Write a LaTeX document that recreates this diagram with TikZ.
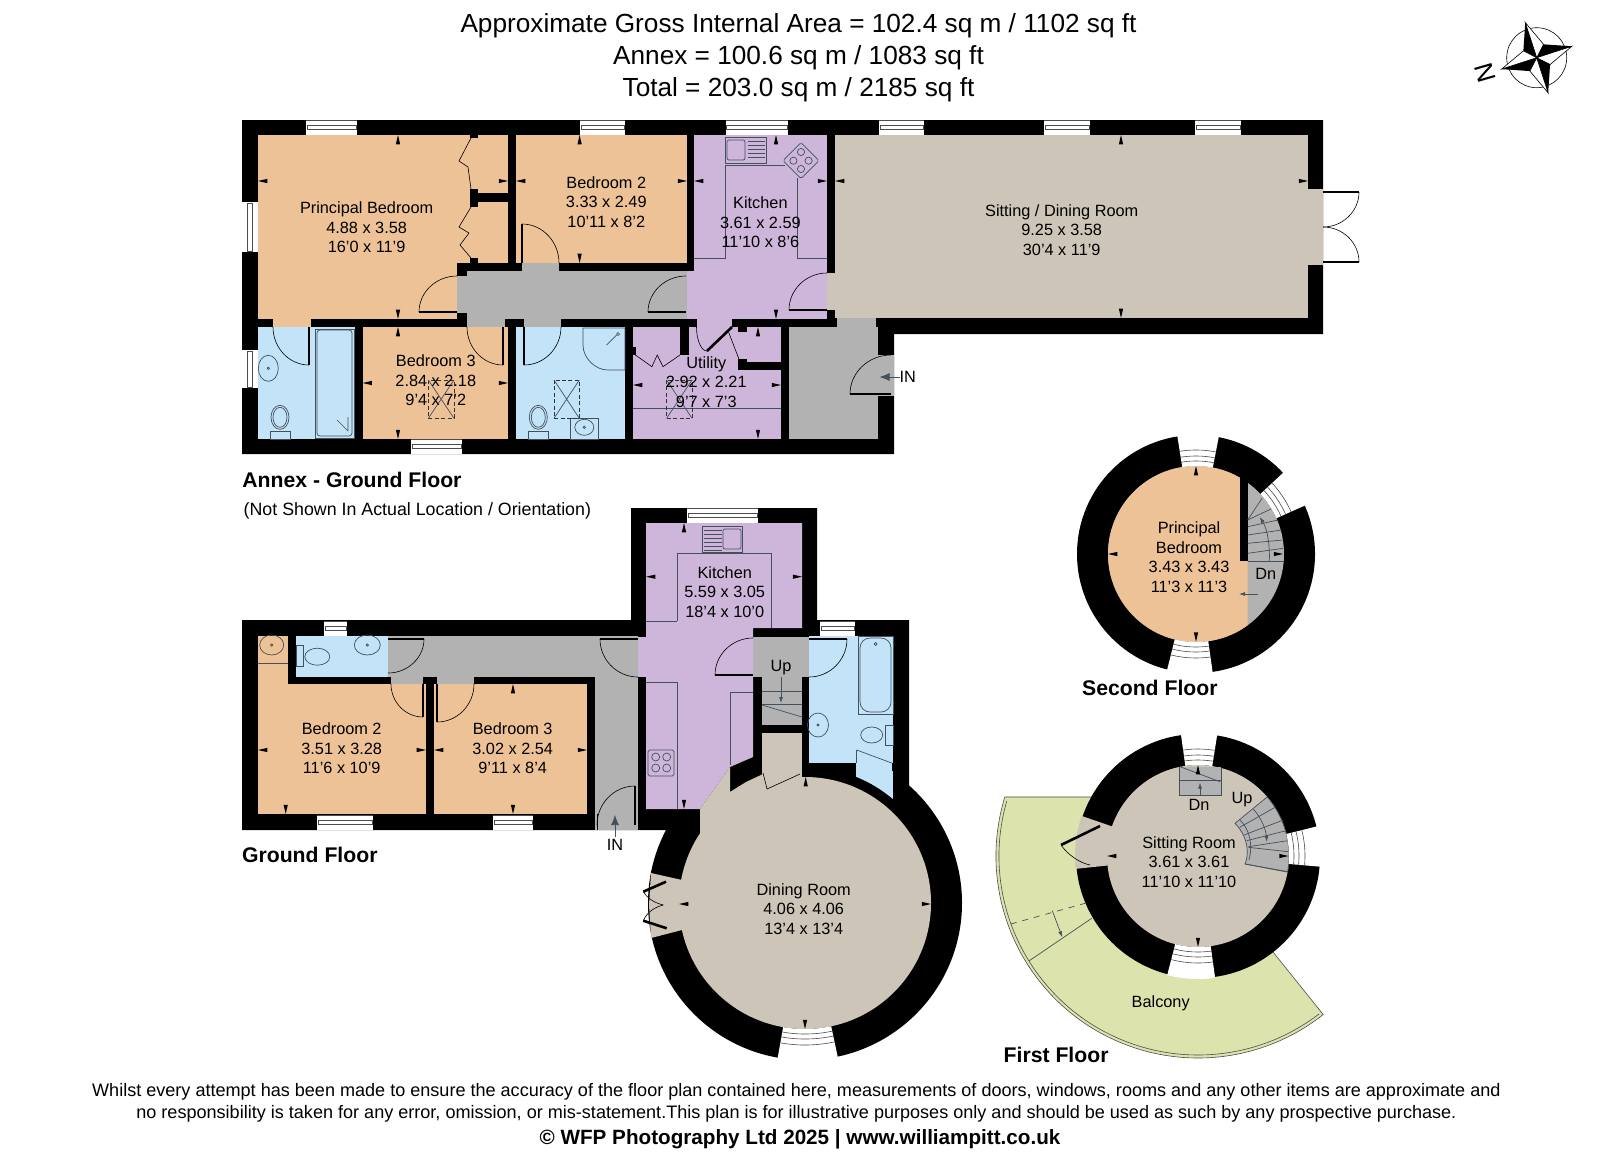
\documentclass[tikz,border=0pt]{standalone}
\usepackage{fontspec}
\setmainfont{Liberation Sans}
\usetikzlibrary{calc, positioning, arrows.meta}
\definecolor{bedroomorange}{HTML}{EEC297}
\definecolor{bathblue}{HTML}{C2E3F8}
\definecolor{kitchenpurple}{HTML}{CEB6DA}
\definecolor{hallgrey}{HTML}{B2B2B2}
\definecolor{livingstone}{HTML}{CDC5B8}
\definecolor{balconygreen}{HTML}{DDE3AC}
\definecolor{fixtureline}{HTML}{44505C}

\begin{document}
\begin{tikzpicture}[x=0.5pt, y=-0.5pt]%{{{
        \useasboundingbox (0, 0) rectangle (1600, 1157);
        \fill [white] (0, 0) rectangle (1600, 1157);

        \tikzstyle{wall} = [fill=black];
        \tikzstyle{fixture} = [draw=fixtureline, line width=0.35pt];
        \tikzstyle{swing} = [draw=black, line width=0.3pt];
        \tikzstyle{leaf} = [draw=black, line width=1.3pt];
        \tikzstyle{hatch} = [draw=black!80, line width=0.35pt, dash pattern=on 2pt off 1.2pt];
        \tikzstyle{windowline} = [draw=black!70, line width=0.3pt];
        \tikzstyle{roomtext} = [font=\fontsize{8.15}{9.75}\selectfont, align=center, inner sep=0pt];
        \tikzstyle{floortext} = [font=\fontsize{10.6}{12}\selectfont\bfseries, anchor=west, inner sep=0pt];

        \coordinate (DC) at (805, 903);
        \coordinate (SC) at (1196, 554);
        \coordinate (FC) at (1198, 856);

        % annex
        \fill [wall] (242, 120) -- (1323, 120) -- (1323, 334) -- (894, 334) -- (894, 454) -- (242, 454) -- cycle;
        \foreach \xa/\ya/\xb/\yb in {258/135/457/319, 457/135/508/263, 273/319/311/327, 516/135/687/263, 362.6/327/508/439}{
            \fill [bedroomorange] (\xa, \ya) rectangle (\xb, \yb);
        }
        \foreach \xa/\ya/\xb/\yb in {258/327/355/439, 516/327/625/439}{
            \fill [bathblue] (\xa, \ya) rectangle (\xb, \yb);
        }
        \foreach \xa/\ya/\xb/\yb in {694/135/827/319, 687/271/694/319, 696.5/319/732/327, 633/327/781/439}{
            \fill [kitchenpurple] (\xa, \ya) rectangle (\xb, \yb);
        }
        \foreach \xa/\ya/\xb/\yb in {467/271/687/319, 457/276/467/313, 467/319/505/327, 524/319/561/327, 522/263/559/271, 789/327/878/439, 837/318/876/327, 878/355/894/396}{
            \fill [hallgrey] (\xa, \ya) rectangle (\xb, \yb);
        }
        \foreach \xa/\ya/\xb/\yb in {835/135/1308/318, 827/273/835/310, 1308/189/1323/265}{
            \fill [livingstone] (\xa, \ya) rectangle (\xb, \yb);
        }
        \foreach \xa/\ya/\xb/\yb in {470/135/478/138, 470/189/478/207, 470/258/478/263, 478/193/508/202, 680/327/689/355, 633/347/636/355, 738/359/747/370, 747/362/781/370, 738/327/747/332}{
            \fill [wall] (\xa, \ya) rectangle (\xb, \yb);
        }

        % ground floor
        \fill [wall] (242, 620) -- (631, 620) -- (631, 508) -- (817, 508) -- (817, 620) -- (909, 620) -- (909, 790) -- (700, 790) -- (700, 830) -- (242, 830) -- cycle;
        \fill [wall] (DC) circle [radius=157];
        \foreach \xa/\ya/\xb/\yb in {258/684/426/814, 258/636/288/684, 434/684/587/814}{
            \fill [bedroomorange] (\xa, \ya) rectangle (\xb, \yb);
        }
        \foreach \xa/\ya/\xb/\yb in {296/636/388/677, 809/636/893/763, 856/750/893/810}{
            \fill [bathblue] (\xa, \ya) rectangle (\xb, \yb);
        }
        \foreach \xa/\ya/\xb/\yb in {388/636/638/677, 595/677/638/830, 391/677/423/684, 437/677/474/684, 753/637/809/677, 762/677/802/725}{
            \fill [hallgrey] (\xa, \ya) rectangle (\xb, \yb);
        }
        \fill [kitchenpurple] (646, 523) -- (802, 523) -- (802, 628) -- (753, 628) -- (753, 757) -- (730, 767) -- (700, 809) -- (646, 809) -- cycle;
        \fill [kitchenpurple] (638, 637) rectangle (646, 677);
        \begin{scope}
            \clip (800, 700) rectangle (960, 1000);
            \fill [wall] (DC) circle [radius=136];
        \end{scope}
        \fill [livingstone] (762, 733) rectangle (802, 790);
        \fill [livingstone] (700, 809) -- (730, 767) -- (730, 792) -- (746, 782) -- (763, 774) -- (763, 800) -- (720, 830) -- (700, 840) -- cycle;
        \fill [livingstone] (DC) circle [radius=126];
        \fill [livingstone] (651, 873) -- (682, 880) -- (682, 930) -- (651, 938) -- (649, 905) -- cycle;
        \fill [wall] (891.7, 763) rectangle (893, 771);

        % second floor
        \fill [wall] (SC) circle [radius=119];
        \fill [hallgrey] (SC) circle [radius=88];
        \begin{scope}
            \clip (1100, 460) rectangle (1247.7, 650);
            \fill [bedroomorange] (SC) circle [radius=88];
        \end{scope}
        \fill [wall] (1240, 477) rectangle (1247.7, 561);

        % first floor
        \fill [balconygreen] ($(FC) + (197:202)$) arc [start angle=197, end angle=51.7, radius=202] -- ($(FC) + (52:120)$) -- (1106, 797) -- cycle;
        \draw [windowline] (1106, 797) -- ($(FC) + (197:202)$) arc [start angle=197, end angle=51.7, radius=202] -- ($(FC) + (52:120)$);
        \draw [windowline] ($(FC) + (196:199)$) arc [start angle=196, end angle=52.5, radius=199];
        \draw [fixture, dashed] (1010.7, 924) -- (1085, 903.3);
        \draw [fixture] (1029.3, 960.7) -- (1091.7, 918.3);
        \draw [fixture, -{Latex[length=3pt, width=2pt]}] (1052.3, 910.7) -- (1062.3, 937.3);
        \fill [wall] (FC) circle [radius=122];
        \fill [livingstone] (FC) circle [radius=91];
        \fill [livingstone] ($(FC) + (199:91)$) -- ($(FC) + (199:123)$) arc [start angle=199, end angle=174, radius=123] -- ($(FC) + (174:91)$) -- cycle;
        \fill [hallgrey] (1179, 767) rectangle (1221, 795);
        \fill [hallgrey] ($(FC) + (-40.5:91)$) arc [start angle=-40.5, end angle=9.9, radius=91] -- (1245, 864) .. controls (1249, 855) and (1249, 838) .. (1235, 823.3) -- cycle;
        \draw [fixture] ($(FC) + (-40.5:91)$) arc [start angle=-40.5, end angle=9.9, radius=91] -- (1245, 864) .. controls (1249, 855) and (1249, 838) .. (1235, 823.3) -- cycle;
        \draw [fixture] (1179, 767) -- (1179, 795) -- (1221, 795) -- (1221, 768);
        \draw [fixture] (1179, 780) -- (1221, 780);
        \draw [fixture] (1180, 766.7) -- (1220, 781.7);
        \draw [fixture, -{Latex[length=3pt, width=2pt]}] (1200, 795) -- (1200, 782.7);
        \foreach \xa/\ya/\xb/\yb in {1239.7/827.3/1275/807.3, 1244/835/1283.3/820, 1246.7/840.7/1286/830.7, 1248.3/846.7/1287.7/840.7, 1248.3/847.3/1288.3/851.7, 1245/864/1287/872}{
            \draw [fixture] (\xa, \ya) -- (\xb, \yb);
        }
        \draw [fixture] (1240, 820) .. controls (1250, 830) and (1253, 845) .. (1249, 860);
        \draw [fixture, -{Latex[length=3pt, width=2pt]}] (1253.3, 809.3) .. controls (1261, 817) and (1266, 830) .. (1266.7, 841.7);

        % second floor stairs
        \foreach \xa/\ya/\xb/\yb in {1247.7/561/1284/561, 1247.7/520/1262/498.3, 1247.7/520/1273/508, 1247.7/526.7/1278/520, 1247.7/535/1281.7/530, 1247.7/543.3/1282.7/540, 1247.7/553.3/1283.3/548.3}{
            \draw [fixture] (\xa, \ya) -- (\xb, \yb);
        }
        \draw [fixture, {Latex[length=3pt, width=2pt]}-] (1259.7, 517) .. controls (1268, 530) and (1270, 548) .. (1269.3, 561);
        \draw [fixture, -{Latex[length=3pt, width=2pt]}] (1258, 594) -- (1239, 594);

        % windows in the round walls
        \foreach \cc/\ri/\aa/\ab in {DC/126/78/100, SC/88/-99/-79, SC/88/82/104, SC/88/-43/-24, FC/91/-98/-81, FC/91/82/104.5, FC/91/-14/5}{
            \fill [white] ($(\cc) + (\aa:\ri)$) arc [start angle=\aa, end angle=\ab, radius=\ri] -- ($(\cc) + (\ab:\ri+32)$) arc [start angle=\ab, end angle=\aa, radius=\ri+32] -- cycle;
            \foreach \dr in {5, 10, 16}{
                \draw [windowline] ($(\cc) + (\aa:\ri+\dr)$) arc [start angle=\aa, end angle=\ab, radius=\ri+\dr];
            }
        }

        % straight windows
        \foreach \xa/\xb/\ya in {306/357/120, 580/625/120, 725.5/788/120, 879/924/120, 1044/1090/120, 1195/1241/120, 411/462/439, 324/347/621, 317/373/815, 493/533/815, 687/758/508, 820/855/621}{
            \fill [white] (\xa, \ya) rectangle (\xb, \ya + 15);
            \draw [windowline] (\xa, \ya) -- (\xb, \ya);
            \draw [windowline] (\xa + 1, \ya + 5) rectangle (\xb - 1, \ya + 9.5);
        }
        \foreach \ya/\yb in {202/252, 350/388}{
            \fill [white] (242, \ya) rectangle (258, \yb);
            \draw [windowline] (247, \ya + 1) rectangle (252, \yb - 1);
        }

        % doors
        \foreach \xa/\ya/\xb/\yb in {419/312/457/312, 522/224/522/263, 648/312/686/312, 789/310/827/310, 309/327/309/365, 503/327/503/365, 524/327/524/365, 850/394/891/394, 732/327/707/351, 1323/192/1359/192, 1323/262/1359/262, 388/639/424/639, 423/684/423/717, 437/684/437/722, 600/639/638/639, 635/786/635/825, 715/675/753/675, 809/639/847/639, 666/881.7/643.3/891.7, 666.7/928.3/643.3/920.7, 1100/826/1061/845}{
            \draw [leaf] (\xa, \ya) -- (\xb, \yb);
        }
        \foreach \xa/\ya/\xb/\yb in {419/312/457/276, 559/263/522/224, 648/312/686/276, 789/310/827/273, 273/327/309/365, 467/327/503/365, 561/327/524/365, 850/394/891/355, 696.5/327/707/351, 424/639/388/673, 391/684/423/717, 474/684/437/722, 600/639/638/677, 597/825/635/786, 715/675/753/638, 847/639/809/677, 1359/192/1323/227, 1359/262/1323/227}{
            \draw [swing] (\xa, \ya) .. controls ($(\xa, \ya)!0.55!(\xa, \yb)$) and ($(\xb, \yb)!0.55!(\xa, \yb)$) .. (\xb, \yb);
        }
        \draw [swing] (643.3, 891.7) .. controls (648, 899) and (655, 903) .. (663.3, 905);
        \draw [swing] (643.3, 920.7) .. controls (647, 912) and (655, 907) .. (663.3, 905);
        \draw [swing] (1061, 845) .. controls (1068, 855) and (1080, 863) .. (1090, 865);
        \draw [swing] (763, 773) -- (767, 789) -- (800, 774);
        \draw [swing] (597, 814) -- (597, 830);
        \draw [swing] (727.8, 330) -- (738.9, 359);

        % fixtures
        \foreach \xa/\ya/\xb/\yb in {725.5/165/766/165, 766/165/785/165, 725.5/165/725.5/258, 694/258/725.5/258, 797/178/797/258, 797/258/827/258, 633/408/781/408, 677/553/771/553, 677/553/677/621, 646/621/677/621, 771/553/771/628, 646/682/677/682, 677/682/677/809, 730/692/753/692, 730/692/730/765, 258/663/288/663, 856.7/750/856.7/763}{
            \draw [fixture] (\xa, \ya) -- (\xb, \yb);
        }
        \draw [fixture] (856.7, 750) -- (891.7, 763);
        % sinks and hobs
        \draw [fixture] (725.5, 137) rectangle (766.6, 163);
        \draw [fixture, rounded corners=1pt] (727, 140) rectangle (745, 160);
        \foreach \ya in {141, 145, ..., 159}{
            \draw [fixture] (748, \ya) -- (765, \ya);
        }
        \draw [fixture] (702, 526) rectangle (742, 552);
        \draw [fixture, rounded corners=1pt] (723, 529) rectangle (741, 549);
        \foreach \ya in {530, 534, ..., 550}{
            \draw [fixture] (704, \ya) -- (722, \ya);
        }
        \draw [fixture, rounded corners=0.8pt] (801, 142.7) -- (819, 160.7) -- (801, 178.7) -- (783, 160.7) -- cycle;
        \foreach \xa/\ya in {801/152, 793.4/160.7, 808.6/160.7, 801/169}{
            \draw [fixture] (\xa, \ya) circle [radius=3.6];
        }
        \draw [fixture, rounded corners=0.8pt] (648, 750) rectangle (674, 776);
        \foreach \xa in {655.7, 666.7}{
            \foreach \ya in {757, 768}{
                \draw [fixture] (\xa, \ya) circle [radius=4];
            }
        }
        % baths and showers
        \draw [fixture] (315, 329) rectangle (354, 438);
        \draw [fixture, rounded corners=1.5pt] (317, 330) rectangle (352, 436);
        \draw [fixture] (337, 420) -- (348, 431) (348, 417) -- (348, 431);
        \draw [fixture] (858, 636) rectangle (893, 714);
        \draw [fixture, rounded corners=5pt] (860, 638) rectangle (891, 712);
        \draw [fixture] (875.7, 644) circle [radius=1.5];
        \draw [fixture] (583, 328) -- (625, 328) -- (625, 370) -- (608, 370) .. controls (595, 370) and (583, 358) .. (583, 345) -- cycle;
        \draw [fixture] (606.7, 345) -- (616.7, 335);
        \draw [fixture] (618, 334) circle [radius=1.5];
        % basins and toilets
        \foreach \xa/\ya/\rx/\ry in {268.3/368.3/10/13, 584.3/427.3/9.5/8, 818/725/10.5/12, 367.3/645/13/10, 271.7/645/12/10}{
            \draw [fixture] (\xa, \ya) ellipse [x radius=\rx, y radius=\ry];
            \draw [fixture] (\xa, \ya) circle [radius=1.2];
        }
        \draw [fixture] (570.7, 418.3) rectangle (598.3, 439);
        \foreach \xa in {280, 538.3}{
            \draw [fixture] (\xa, 417.3) ellipse [x radius=9, y radius=12];
            \draw [fixture] (\xa, 417.3) ellipse [x radius=7, y radius=10];
            \draw [fixture] (\xa - 10, 431.7) rectangle (\xa + 10, 439);
        }
        \draw [fixture] (317.3, 656.7) ellipse [x radius=12.5, y radius=8.5];
        \draw [fixture] (296, 645) rectangle (303.3, 666.7);
        \draw [fixture] (871.7, 735) ellipse [x radius=11, y radius=8];
        \draw [fixture] (885.7, 725.7) rectangle (893, 745.7);
        % ground floor stairs
        \foreach \ya in {691, 704}{
            \draw [fixture] (762, \ya) -- (802, \ya);
        }
        \draw [fixture] (762, 705) -- (802, 717);
        \draw [fixture, -{Latex[length=3pt, width=2pt]}] (781, 677) -- (781, 703);

        % loft hatches
        \foreach \xa/\xb in {554/579.3, 428.3/454, 666.6/692}{
            \draw [hatch] (\xa, 380) rectangle (\xb, 418.3);
            \draw [fixture] (\xa, 380) -- (\xb, 418.3) (\xa, 418.3) -- (\xb, 380);
        }

        % wardrobe and cupboard doors
        \draw [swing] (471, 138) -- (459, 161) -- (468, 167) -- (471, 189);
        \draw [swing] (471, 207) -- (459, 227) -- (469, 233) -- (460, 245) -- (471, 258);
        \draw [swing] (635.4, 355) -- (651.9, 366.7) -- (657.2, 355) -- (663, 366.7) -- (680, 355);

        % dimension ticks
        \foreach \tx/\ty/\ta in {398/135/90, 398/319/270, 258/181/0, 508/181/180, 579.6/135/90, 579.6/263/270, 516/181/0, 687/181/180, 776/135/90, 776/319/270, 694/181/0, 827/181/180, 835/181/0, 1308/181/180, 1121/135/90, 1121/318/270, 398/327/90, 398/439/270, 362.6/383/0, 508/383/180, 758/327/90, 758/439/270, 633/385/0, 781/385/180, 258/750/0, 426/750/180, 285.7/814/270, 513/684/90, 513/814/270, 434/750/0, 587/750/180, 684/523/90, 646/576.7/0, 802/576.7/180, 684/809/270, 805.7/777/90, 805/1029/270, 679/904/0, 931/904/180, 1196/466/90, 1196/641.7/270, 1108/554/0, 1283/554/180, 1198/765/90, 1198/947/270, 1107/856/0, 1288.5/856/180}{
            \fill [black] (\tx, \ty) -- ($(\tx, \ty) + (\ta + 13:9.5)$) -- ($(\tx, \ty) + (\ta - 13:9.5)$) -- cycle;
        }

        % compass
        \coordinate (CC) at (1536.7, 57.7);
        \draw [swing] (CC) circle [radius=30];
        \foreach \ka in {-108, -18, 72, 162}{
            \fill [white] (CC) -- ($(CC) + (\ka:37)$) -- ($(CC) + (\ka + 45:15)$) -- cycle;
            \draw [swing] (CC) -- ($(CC) + (\ka:37)$) -- ($(CC) + (\ka + 45:15)$) -- cycle;
            \fill [black] (CC) -- ($(CC) + (\ka:37)$) -- ($(CC) + (\ka - 45:15)$) -- cycle;
        }
        \node [font=\fontsize{13}{13}\selectfont, rotate=106, inner sep=0pt] (northmark) at (1485, 73.3) {N};

        % room names
        \node [roomtext] (principalannex) at (366.6, 227.3) {Principal Bedroom\\4.88 x 3.58\\16'0 x 11'9};
        \node [roomtext] (bedtwoannex) at (606.3, 201.7) {Bedroom 2\\3.33 x 2.49\\10'11 x 8'2};
        \node [roomtext] (kitchenannex) at (760.4, 222.3) {Kitchen\\3.61 x 2.59\\11'10 x 8'6};
        \node [roomtext] (sittingdining) at (1061.7, 230) {Sitting / Dining Room\\9.25 x 3.58\\30'4 x 11'9};
        \node [roomtext] (bedthreeannex) at (435.8, 380.3) {Bedroom 3\\2.84 x 2.18\\9'4 x 7'2};
        \node [roomtext] (utility) at (706.3, 382) {Utility\\2.92 x 2.21\\9'7 x 7'3};
        \node [roomtext] (inannex) at (907.7, 376.7) {IN};
        \draw [fixture, {Latex[length=5pt, width=4pt]}-] (879.5, 377) -- (900, 377);
        \node [roomtext] (kitchen) at (724.7, 592) {Kitchen\\5.59 x 3.05\\18'4 x 10'0};
        \node [roomtext] (bedtwo) at (341.7, 748.3) {Bedroom 2\\3.51 x 3.28\\11'6 x 10'9};
        \node [roomtext] (bedthree) at (512.7, 748.3) {Bedroom 3\\3.02 x 2.54\\9'11 x 8'4};
        \node [roomtext] (dining) at (803.7, 909) {Dining Room\\4.06 x 4.06\\13'4 x 13'4};
        \node [roomtext] (upground) at (781, 668) {Up};
        \node [roomtext] (inground) at (615, 844.5) {IN};
        \draw [fixture, {Latex[length=5pt, width=4pt]}-] (615, 815) -- (615, 837);
        \node [roomtext] (principal) at (1189, 557) {Principal\\Bedroom\\3.43 x 3.43\\11'3 x 11'3};
        \node [roomtext] (dnsecond) at (1265.7, 573.5) {Dn};
        \node [roomtext] (sitting) at (1189, 861.7) {Sitting Room\\3.61 x 3.61\\11'10 x 11'10};
        \node [roomtext] (balcony) at (1160.7, 1003.3) {Balcony};
        \node [roomtext] (dnfirst) at (1199, 805) {Dn};
        \node [roomtext] (upfirst) at (1242, 800) {Up};

        % titles
        \node [floortext] (annexfloor) at (242, 480) {Annex - Ground Floor};
        \node [font=\fontsize{8.9}{10}\selectfont, anchor=west, inner sep=0pt] (annexnote) at (243.3, 510.5) {(Not Shown In Actual Location / Orientation)};
        \node [floortext] (groundfloor) at (241.7, 855) {Ground Floor};
        \node [floortext] (secondfloor) at (1081.7, 687.5) {Second Floor};
        \node [floortext] (firstfloor) at (1003.3, 1055) {First Floor};
        \node [font=\fontsize{13.1}{15.9}\selectfont, align=center, inner sep=0pt] (areas) at (798.5, 58) {Approximate Gross Internal Area = 102.4 sq m / 1102 sq ft\\Annex = 100.6 sq m / 1083 sq ft\\Total = 203.0 sq m / 2185 sq ft};
        \node [font=\fontsize{9.03}{11}\selectfont, align=center, inner sep=0pt] (disclaimer) at (796.4, 1103) {Whilst every attempt has been made to ensure the accuracy of the floor plan contained here, measurements of doors, windows, rooms and any other items are approximate and\\no responsibility is taken for any error, omission, or mis-statement.This plan is for illustrative purposes only and should be used as such by any prospective purchase.};
        \node [font=\fontsize{10.33}{12}\selectfont\bfseries, inner sep=0pt] (copyright) at (800, 1139) {© WFP Photography Ltd 2025 | www.williampitt.co.uk};
    \end{tikzpicture}
\end{document}
